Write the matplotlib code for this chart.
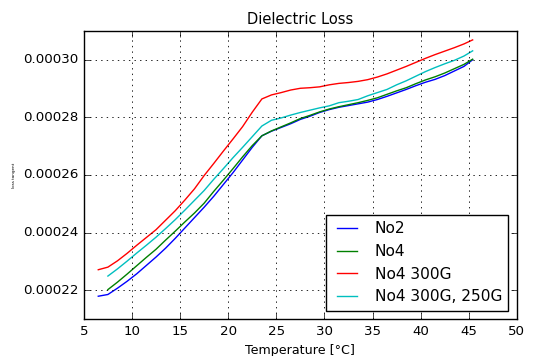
import matplotlib
matplotlib.use("Agg")
import matplotlib.pyplot as plt
from matplotlib.ticker import FormatStrFormatter, MultipleLocator
import numpy as np

plt.style.use("classic")

# Temperatures in °C
temp_no2 = [6.5, 7.5, 8.5, 9.5, 10.5, 11.5, 12.5, 13.5, 14.5, 15.5, 16.5, 17.5, 18.5, 19.5,
            20.5, 21.5, 22.5, 23.5, 24.5, 25.5, 26.5, 27.5, 28.5, 29.5, 30.5, 31.5, 32.5,
            33.5, 34.5, 35.5, 36.5, 37.5, 38.5, 39.5, 40.5, 41.5, 42.5, 43.5, 44.5, 45.4]
temp_no4 = temp_no2[1:]
temp_no4_300g = temp_no2
temp_no4_300g_250g = temp_no2[1:]

# Dielectric loss (units of 1e-5)
loss_no2 = [21.79, 21.85, 22.07, 22.31, 22.57, 22.86, 23.15, 23.46, 23.80, 24.16, 24.52,
            24.88, 25.26, 25.67, 26.08, 26.52, 26.96, 27.36, 27.52, 27.65, 27.78, 27.93,
            28.04, 28.17, 28.27, 28.35, 28.41, 28.47, 28.53, 28.62, 28.73, 28.85, 28.97,
            29.10, 29.22, 29.32, 29.45, 29.61, 29.77, 30.00]
loss_no4 = [22.02, 22.28, 22.56, 22.85, 23.14, 23.42, 23.74, 24.05, 24.37, 24.68, 25.02,
            25.43, 25.82, 26.22, 26.63, 27.02, 27.36, 27.53, 27.67, 27.81, 27.96, 28.07,
            28.19, 28.29, 28.37, 28.44, 28.51, 28.59, 28.68, 28.80, 28.92, 29.03, 29.17,
            29.30, 29.41, 29.54, 29.69, 29.84, 30.02]
loss_no4_300g = [22.71, 22.80, 23.02, 23.28, 23.56, 23.83, 24.10, 24.43, 24.76, 25.13,
                 25.52, 25.98, 26.40, 26.83, 27.25, 27.68, 28.18, 28.64, 28.78, 28.86,
                 28.95, 29.01, 29.03, 29.06, 29.13, 29.18, 29.21, 29.25, 29.31, 29.40,
                 29.51, 29.64, 29.77, 29.91, 30.05, 30.18, 30.30, 30.42, 30.55, 30.69]
loss_no4_300g_250g = [22.49, 22.74, 23.01, 23.29, 23.56, 23.84, 24.14, 24.45, 24.78, 25.12,
                      25.46, 25.85, 26.22, 26.60, 26.96, 27.33, 27.70, 27.90, 27.98, 28.08,
                      28.17, 28.25, 28.33, 28.40, 28.51, 28.56, 28.62, 28.75, 28.86, 28.97,
                      29.13, 29.27, 29.43, 29.59, 29.73, 29.86, 29.98, 30.13, 30.31]

series = [
    ("No2", temp_no2, loss_no2, "b"),
    ("No4", temp_no4, loss_no4, "g"),
    ("No4 300G", temp_no4_300g, loss_no4_300g, "r"),
    ("No4 300G, 250G", temp_no4_300g_250g, loss_no4_300g_250g, "c"),
]

fs = 9.6
fig = plt.figure(figsize=(5.34, 3.56), dpi=100, facecolor="white")
ax = fig.add_axes([0.157, 0.104, 0.811, 0.809])

for label, t, v, color in series:
    ax.plot(t, np.array(v) * 1e-5, color=color, lw=1.0, label=label)

ax.set_xlim(5, 50)
ax.set_ylim(0.00021, 0.00031)
ax.xaxis.set_major_locator(MultipleLocator(5))
ax.set_yticks([0.00022, 0.00024, 0.00026, 0.00028, 0.00030])
ax.yaxis.set_major_formatter(FormatStrFormatter("%.5f"))
ax.tick_params(labelsize=fs)
ax.grid(True, linestyle=":", color="black", linewidth=0.6)

ax.set_title("Dielectric Loss", fontsize=fs * 1.1)
ax.set_xlabel("Temperature [°C]", fontsize=fs * 0.95)
ax.set_ylabel("loss tangent", fontsize=3)

leg = ax.legend(loc="lower right", fontsize=fs * 1.15, frameon=True, fancybox=False,
                handlelength=1.9, handletextpad=0.9, borderaxespad=0.55)
leg.get_frame().set_edgecolor("black")

fig.savefig("out.png", dpi=100, facecolor="white")
